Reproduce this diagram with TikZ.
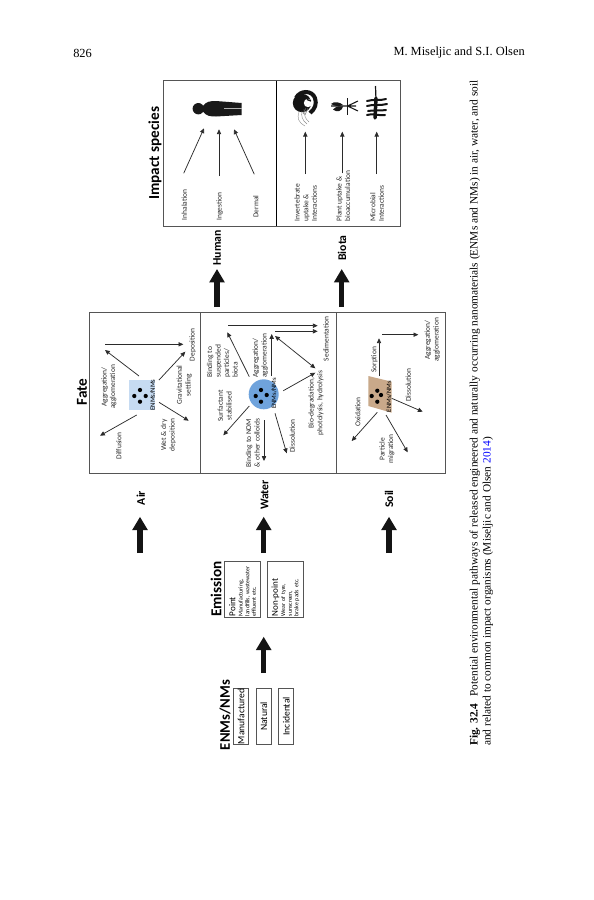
\documentclass[tikz,border=0pt]{standalone}
\usepackage{fontspec}
\setmainfont{Carlito}
\newfontfamily\capfont{Liberation Serif}
\usetikzlibrary{arrows.meta}
\definecolor{ink}{HTML}{2B2B2B}
\definecolor{framegray}{HTML}{555555}
\definecolor{airblue}{HTML}{C6DBF2}
\definecolor{waterblue}{HTML}{6FA3DC}
\definecolor{soiltan}{HTML}{C9A98A}
\tikzset{
  thinarrow/.style={draw=ink,line width=0.55pt,-{Triangle[length=3.6pt,width=3.2pt]}},
  thinboth/.style={draw=ink,line width=0.55pt,{Triangle[length=3.6pt,width=3.2pt]}-{Triangle[length=3.6pt,width=3.2pt]}},
  bigarrow/.style={draw=black!92,line width=3.8pt,-{Triangle[length=10pt,width=11pt]}},
  lbl/.style={rotate=90,font=\fontsize{5.6}{6.4}\selectfont,align=center,inner sep=0pt,text=ink},
  lblleft/.style={rotate=90,font=\fontsize{5.6}{6.4}\selectfont,align=left,anchor=west,inner sep=0pt,text=ink},
  tiny/.style={rotate=90,font=\fontsize{5}{6}\selectfont,inner sep=0pt,text=black},
  heading/.style={rotate=90,font=\fontsize{11.4}{13}\selectfont\bfseries,inner sep=0pt},
  flowlbl/.style={rotate=90,font=\fontsize{8.8}{10}\selectfont\bfseries,inner sep=0pt},
  frame/.style={draw=framegray,line width=0.7pt},
  srcbox/.style={draw=framegray,line width=0.6pt,rectangle,rotate=90,minimum width=42pt,minimum height=11.5pt,inner sep=0pt,font=\fontsize{7.2}{8}\selectfont},
  embox/.style={draw=framegray,line width=0.6pt,rectangle,rotate=90,minimum width=41.7pt,minimum height=26.7pt,inner xsep=0.8pt,inner ysep=0.5pt,text width=40pt,align=left,font=\fontsize{4.4}{5}\selectfont},
  dot/.style={fill=black,circle,inner sep=0pt,minimum size=3.2pt},
  pagetext/.style={rotate=90,anchor=west,inner sep=0pt,font=\capfont\fontsize{8.5}{10}\selectfont}
}
\newcommand{\conn}[6][thinarrow]{%
  \coordinate (#2s) at (#3,#4);\coordinate (#2e) at (#5,#6);\draw[#1] (#2s) -- (#2e);}
\begin{document}
\begin{tikzpicture}[x=0.75pt,y=-0.75pt]
\path[use as bounding box,fill=white] (0,0) rectangle (593,900);
% page header
\node[anchor=west,inner sep=0pt,font=\capfont\fontsize{9.3}{11}\selectfont] (folio) at (73,53) {826};
\node[anchor=east,inner sep=0pt,font=\capfont\fontsize{9.3}{11}\selectfont] (runhead) at (525,53) {M. Miseljic and S.I. Olsen};
% caption
\node[pagetext] (cap1) at (475,746) {\textbf{Fig. 32.4}\hspace{0.6em}Potential environmental pathways of released engineered and naturally occurring nanomaterials (ENMs and NMs) in air, water, and soil};
\node[pagetext] (cap2) at (488,746) {and related to common impact organisms (Miseljic and Olsen \textcolor{blue}{2014})};
% sources
\node[heading,font=\fontsize{11}{12}\selectfont\bfseries] (tsrc) at (225,715) {ENMs/NMs};
\node[srcbox] (manu) at (241,716.3) {Manufactured};
\node[srcbox] (natu) at (263.7,716.3) {Natural};
\node[srcbox] (inci) at (286.2,716.3) {Incidental};
% emission
\node[heading] (tem) at (216,589) {Emission};
\node[embox] (pt) at (242.5,589.5) {{\fontsize{6.8}{7.4}\selectfont Point}\\[0.5pt]Manufacturing,\\landfills, wastewater\\effluent etc.};
\node[embox] (np) at (285.5,589.5) {{\fontsize{6.8}{7.4}\selectfont Non-point}\\[0.5pt]Wear of tyre,\\sunscreen,\\brake pads etc.};
% thick arrows
\conn[bigarrow]{fe}{263.7}{673}{263.7}{636.7}
\conn[bigarrow]{fa}{140}{553}{140}{516.7}
\conn[bigarrow]{fw}{263.7}{553}{263.7}{516.7}
\conn[bigarrow]{fs}{389}{553}{389}{516.7}
\conn[bigarrow]{fh}{217}{307}{217}{269}
\conn[bigarrow]{fb}{341.7}{307}{341.7}{269}
\node[flowlbl] (air) at (140.7,498) {Air};
\node[flowlbl] (wat) at (264.7,495) {Water};
\node[flowlbl] (soi) at (389,499) {Soil};
\node[flowlbl] (hum) at (217,248) {Human};
\node[flowlbl] (bio) at (342,248) {Biota};
% fate
\node[heading] (tfate) at (82,392) {Fate};
\draw[frame] (89.3,312.7) rectangle (445.7,473.3);
\draw[frame] (200.7,312.7) -- (200.7,473.3);
\draw[frame] (336.7,312.7) -- (336.7,473.3);
% air
\fill[airblue] (129,380) rectangle (155,410);
\foreach \p/\q/\n in {140/390/a1,134.3/396/a2,145.7/396/a3,140/401.7/a4}{\node[dot] (\n) at (\p,\q) {};}
\node[tiny] (ea) at (152.7,395) {ENMs/NMs};
\conn{a1}{139}{376}{105}{350}
\conn{a2}{105.3}{344.3}{183.3}{344.3}
\conn{a3}{159}{380}{185.3}{351.7}
\conn{a4}{159}{402.3}{188.7}{420.7}
\conn{a5}{136.7}{415}{100}{435.7}
\node[lbl] at (109,387) {Aggregation/\\agglomeration};
\node[lbl] at (192.7,344.7) {Deposition};
\node[lbl] at (184.3,385) {Gravitational\\settling};
\node[lbl] at (168.3,435) {Wet \& dry\\deposition};
\node[lbl] at (118.7,446) {Diffusion};
% water
\fill[waterblue] (263.7,394.3) circle (15);
\foreach \p/\q/\n in {261/390/w1,255.7/396/w2,266.7/395/w3,261/401.7/w4}{\node[dot] (\n) at (\p,\q) {};}
\node[tiny] (ew) at (274,393.3) {ENMs/NMs};
\conn{b1}{249.3}{376.7}{227.3}{332.3}
\conn{b2}{228.3}{325.7}{317.7}{325.7}
\conn{b3}{275.3}{331.3}{317.7}{331.3}
\conn{b4}{271.7}{376}{271.7}{334}
\conn[thinboth]{b5}{275}{336}{315.3}{368.3}
\conn{b6}{283.3}{390.7}{315.3}{372.7}
\conn{b7}{275}{413.3}{286.7}{453.3}
\conn{b8}{264}{420}{264}{461}
\conn{b9}{249.3}{406}{223.3}{435.3}
\node[lblleft] at (222.3,378) {Binding to\\suspended\\particles/\\biota};
\node[lblleft] at (260.3,378) {Aggregation/\\agglomeration};
\node[lbl] at (326,339) {Sedimentation};
\node[lbl] at (224.7,406) {Surfactant\\stabilised};
\node[lbl] at (252.7,443) {Binding to NOM\\\& other colloids};
\node[lbl] at (292.3,436) {Dissolution};
\node[lbl] at (316,403) {Bio-degradation,\\photolysis, hydrolysis};
% soil
\fill[soiltan] (368.3,376) -- (391.7,381.7) -- (391.7,412.7) -- (368.3,406) -- cycle;
\foreach \p/\q/\n in {377.3/390.7/s1,371.7/396/s2,381/395/s3,377.3/401.7/s4}{\node[dot] (\n) at (\p,\q) {};}
\node[tiny] (es) at (389,396.7) {ENMs/NMs};
\conn{c1}{379}{376}{379}{338.3}
\conn{c2}{382}{334.7}{418.3}{334.7}
\conn{c3}{391.7}{398.3}{422.7}{411.7}
\conn{c4}{386}{415}{407.7}{452.3}
\conn{c5}{377.3}{412.3}{351.7}{441}
\node[lbl] at (374.3,360) {Sorption};
\node[lbl] at (432.3,340) {Aggregation/\\agglomeration};
\node[lbl] at (408.3,385) {Dissolution};
\node[lbl] at (387,449) {Particle\\migration};
\node[lbl] at (357.7,412) {Oxidation};
% impact species
\node[heading] (timp) at (155,153.3) {Impact species};
\draw[frame] (163,80.7) rectangle (400,226);
\draw[draw=black,line width=0.7pt] (276.7,80.7) -- (276.7,226);
\conn{d1}{183.7}{173.3}{204}{128.3}
\conn{d2}{219}{176}{219}{129.3}
\conn{d3}{254.3}{174.3}{234}{129.3}
\conn{d4}{305.3}{174}{305.3}{131.7}
\conn{d5}{342.3}{173.3}{342.3}{131.7}
\conn{d6}{376.7}{174}{376.7}{131.7}
\node[lbl] at (184.3,205) {Inhalation};
\node[lbl] at (219.7,206.7) {Ingestion};
\node[lbl] at (255.7,206.7) {Dermal};
\node[lblleft] at (305.7,221.7) {Invertebrate\\uptake \&\\Interactions};
\node[lblleft] at (343.3,221.7) {Plant uptake \&\\bioaccumulation};
\node[lblleft] at (377,221.7) {Microbial\\Interactions};
% person icon
\fill[black!90] (198.3,108.7) circle (5.7);
\fill[black!90] (203,106) .. controls (206,101.5) and (210,101) .. (216,101) -- (241.7,103) -- (241.7,115) -- (216,116.5) .. controls (210,116.5) and (206,116) .. (203,111.5) -- cycle;
\draw[white!70!black,line width=0.7pt] (224,108.9) -- (242,108.9);
% shrimp icon
\fill[black!92] (302,103) circle (9.2);
\draw[black!92,line width=3pt] (296,98) .. controls (300,90) and (312,90) .. (315,98) .. controls (317,104) and (315,109) .. (310,113);
\fill[white] (308,103) circle (4.2);
\draw[black!92,line width=1pt] (307,99.5) -- (311,101);
\draw[black!45,line width=0.3pt] (299,112) .. controls (297,118) and (298,122) .. (305,126) (302,111) .. controls (301,116) and (302,120) .. (307,124) (304,109) .. controls (304,114) and (305,119) .. (309,122);
\draw[black!60,line width=0.35pt] (306,108) -- (303,114) (308,108) -- (305,115);
% plant icon
\draw[black!90,line width=0.9pt] (347.3,98.3) -- (347.3,115);
\draw[black!90,line width=0.8pt] (331,106) -- (356,106) (347.5,106) -- (358,101) (347.5,106) -- (358,111);
\fill[black!90] (331,104) .. controls (334,101) and (340,102) .. (343,105) .. controls (339,106.5) and (335,106.5) .. (331,104) -- cycle;
\fill[black!90] (333,109.5) .. controls (336,106) and (340,106) .. (343,106.5) .. controls (342,111) and (337,113) .. (333,109.5) -- cycle;
% microbial icon
\draw[black!92,line width=2.6pt,line cap=round] (376,98) -- (375,118);
\draw[black!92,line width=0.9pt] (375.5,86) -- (376,100);
\draw[black!92,line width=1.5pt,line cap=round] (367,101) .. controls (373,99) and (380,101) .. (386,99) (367,106) .. controls (373,104) and (380,106) .. (387,104) (368,111) .. controls (373,110) and (380,111) .. (386,110) (367,115) .. controls (372,113) and (380,116) .. (385,115);
\end{tikzpicture}
\end{document}
